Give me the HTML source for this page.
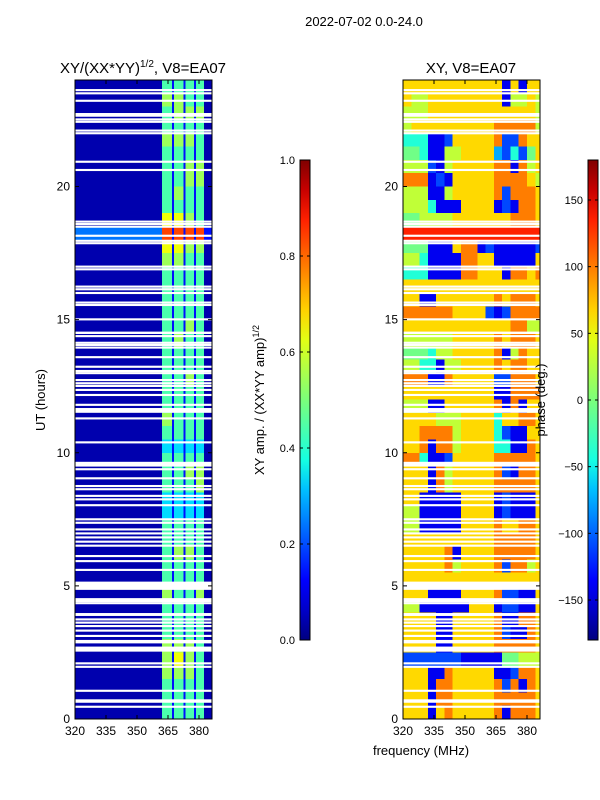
<!DOCTYPE html>
<html><head><meta charset="utf-8"><style>
body{margin:0;background:#fff;}
svg{display:block;font-family:"Liberation Sans",sans-serif;}
</style></head><body>
<svg id="fig" width="600" height="800" xmlns="http://www.w3.org/2000/svg"></svg>
<script>
// ---- data ----
const ampFreqEdges=[320,340,362,367,368,372.5,373.5,377.5,378.5,382.5,386.5];
// rows from 24h down to 0h in 0.5h steps; digit d -> amplitude 0.04 + d/10
const ampRows=["0041414140","0051514140","0041515150","0041414140","0051515140","0041414140","0041415150","0041415150","0041514140","0041414140","0061615140","2281818181","0061615150","0051514140","0041414140","0041414140","0041414140","0041414140","0041415140","0041514140","0041414140","0041414140","0041415140","0041414140",
"0041414140","0051414140","0041414140","0031313130","0041414140","0041415150","0041414150","0031313130","0031313130","0041414140","0041414140","0041515140","0041414140","0041414140","0051414150","0041414140","0041414140","0041414140","0051515140","0051615140","0051515140","0041414140","0041414140","0041414140"];
const phFreqEdges=[320,324,328,332,336,340,344,348,352,356,360,364,368,372,376,380,384,386.5];
// digit d -> phase -180 + d*35
const phRows=["77777777777717177","76677777777716676","66677777777777776","67777777777888886","44411277777822877","55411667777324257","66621677777881867","88812177777888876","66611677777828887","66641117777121887","55666677777778887","99999999999999999","55511178812111112","66411118877111117","44411118877718878","77777777777777777","77117777777878887","88888877772128888","77777777777778866","66666677777878887","55546677777816877","66441667777878877","88811877777228887","77777777777118888",
"66611777777818177","77776667777477887","77888867777421177","77818867777441187","88411277777888887","77718677777821887","77718677777888887","77111117777121117","66111117777121117","66111117777877887","77777777777888887","77777817777888887","77777867777828867","77777777777777777","77711117777822117","66111111777122117","77771177777811887","77771177777821187","77771177777888887","22222221111155666","77711877777112887","77718877777828187","77718877777888887","77717877777818887"];
// flagged (white) time intervals, hours
const flagStart=[23.58,23.46,23.18,22.62,22.48,22.39,22.06,21.96,20.89,20.58,18.64,18.55,18.45,18.11,17.92,17.83,16.95,16.85,16.20,16.10,15.96,15.60,15.51,14.97,14.46,14.34,14.09,14.01,13.91,13.55,13.19,13.03,12.95,12.69,12.57,12.47,12.32,12.13,11.76,11.50,11.25,10.35,9.48,9.34,9.00,8.71,8.59,8.34,8.21,7.99,7.46,7.33,7.08,6.93,6.78,6.62,6.47,6.08,5.89,5.56,4.85,4.46,4.39,4.31,3.87,3.70,3.58,3.45,3.28,3.08,2.84,2.53,2.05,1.92,1.02,0.61,0.42];
const flagEnd=[23.66,23.54,23.26,22.76,22.56,22.47,22.14,22.04,20.97,20.66,18.72,18.63,18.53,18.19,18.00,17.91,17.03,16.93,16.28,16.18,16.04,15.68,15.59,15.05,14.55,14.42,14.17,14.09,13.99,13.63,13.27,13.11,13.03,12.77,12.65,12.55,12.40,12.21,11.84,11.68,11.33,10.43,9.66,9.42,9.08,8.79,8.67,8.42,8.29,8.07,7.54,7.41,7.16,7.01,6.86,6.70,6.55,6.16,5.97,5.64,5.16,4.54,4.47,4.39,3.98,3.78,3.66,3.53,3.36,3.16,2.97,2.72,2.13,2.00,1.10,0.74,0.50];
const xTicks=[320,335,350,365,380];
const yTicks=[0,5,10,15,20];
const ampTicks=[0.0,0.2,0.4,0.6,0.8,1.0];
const phTicks=[-150,-100,-50,0,50,100,150];

// ---- helpers ----
const NS="http://www.w3.org/2000/svg";
const svg=document.getElementById('fig');
function mk(tag,attrs,parent){const e=document.createElementNS(NS,tag);for(const k in attrs)e.setAttribute(k,attrs[k]);(parent||svg).appendChild(e);return e;}
const JR=[[0,0],[0.35,0],[0.66,1],[0.89,1],[1,0.5]],JG=[[0,0],[0.125,0],[0.375,1],[0.64,1],[0.91,0],[1,0]],JB=[[0,0.5],[0.11,1],[0.34,1],[0.65,0],[1,0]];
function seg(p,v){for(let i=0;i<p.length-1;i++){if(v<=p[i+1][0]){const t=(v-p[i][0])/(p[i+1][0]-p[i][0]);return p[i][1]+t*(p[i+1][1]-p[i][1]);}}return p[p.length-1][1];}
function jet(v){v=Math.max(0,Math.min(1,v));
 return `rgb(${Math.round(seg(JR,v)*255)},${Math.round(seg(JG,v)*255)},${Math.round(seg(JB,v)*255)})`;}
const Y0=719,Y1=80;
function yS(h){return Y0-(h/24)*(Y0-Y1);}
function xS(x0,f){return x0+(f-320)*(124/60);}
const PW=137;

function panel(x0,name,edges,rows,valFn){
 const g=mk('g',{'clip-path':`url(#clip-${name})`});
 
 
 const cp=mk('clipPath',{id:'clip-'+name});mk('rect',{x:x0,y:Y1,width:PW,height:Y0-Y1},cp);
 rows.forEach((row,i)=>{const hTop=24-0.5*i,hBot=hTop-0.5;
  for(let j=0;j<edges.length-1;j++){
   const c=mk('rect',{x:xS(x0,edges[j]),y:yS(hTop),width:xS(x0,edges[j+1])-xS(x0,edges[j])+0.5,height:yS(hBot)-yS(hTop)+0.5,fill:jet(valFn(+row[j])),'shape-rendering':'crispEdges'},g);
   
   
  }});
 flagStart.forEach((s,k)=>{const r=mk('rect',{x:x0,y:yS(flagEnd[k]),width:PW,height:yS(s)-yS(flagEnd[k]),fill:'#fff'},g);
  
  });
 const f=mk('rect',{x:x0,y:Y1,width:PW,height:Y0-Y1,fill:'none',stroke:'#000','stroke-width':1});
 
 
 xTicks.forEach(t=>{const x=xS(x0,t);mk('line',{x1:x,x2:x,y1:Y0,y2:Y0-4,stroke:'#000'});mk('line',{x1:x,x2:x,y1:Y1,y2:Y1+4,stroke:'#000'});
  const tx=mk('text',{x:x,y:Y0+16,'text-anchor':'middle','font-size':12});tx.textContent=t;
  
  });
 yTicks.forEach(t=>{const y=yS(t);mk('line',{x1:x0,x2:x0+4,y1:y,y2:y,stroke:'#000'});mk('line',{x1:x0+PW,x2:x0+PW-4,y1:y,y2:y,stroke:'#000'});
  const tx=mk('text',{x:x0-5,y:y+4,'text-anchor':'end','font-size':12});tx.textContent=t;
  
  });
}
panel(75,'amplitude',ampFreqEdges,ampRows,d=>0.04+d/10);
panel(403,'phase',phFreqEdges,phRows,d=>(d*35)/360);

function colorbar(x,name,ticks,lo,hi,fmt){
 const defs=mk('defs',{});const lg=mk('linearGradient',{id:'g'+name,x1:0,y1:1,x2:0,y2:0},defs);
 for(let i=0;i<=16;i++)mk('stop',{offset:i/16,'stop-color':jet(i/16)},lg);
 const r=mk('rect',{x:x,y:160,width:10,height:480,fill:`url(#g${name})`,stroke:'#000','stroke-width':1});
 
 
 ticks.forEach(t=>{const y=640-(t-lo)/(hi-lo)*480;mk('line',{x1:x,x2:x+3,y1:y,y2:y,stroke:'#000'});mk('line',{x1:x+10,x2:x+7,y1:y,y2:y,stroke:'#000'});
  const tx=mk('text',{x:x-5,y:y+4,'text-anchor':'end','font-size':11});tx.textContent=fmt(t);
  
  });
}
colorbar(300,'amplitude',ampTicks,0,1,t=>t.toFixed(1));
colorbar(588,'phase',phTicks,-180,180,t=>t<0?'\u2212'+(-t):''+t);

function txt(s,a,name){const t=mk('text',a);t.textContent=s;return t;}
txt('2022-07-02 0.0-24.0',{x:364,y:26,'text-anchor':'middle','font-size':13},'figure-title');
const t1=txt('',{x:143,y:73,'text-anchor':'middle','font-size':15},'amplitude-title');
t1.innerHTML='XY/(XX*YY)<tspan dy="-6" font-size="10">1/2</tspan><tspan dy="6">, V8=EA07</tspan>';
txt('XY, V8=EA07',{x:471,y:73,'text-anchor':'middle','font-size':15},'phase-title');
txt('UT (hours)',{x:45,y:400,'text-anchor':'middle','font-size':13,transform:'rotate(-90 45 400)'},'y-axis-title');
const t2=txt('',{x:264,y:400,'text-anchor':'middle','font-size':13,transform:'rotate(-90 264 400)'},'amplitude-colorbar-label');
t2.innerHTML='XY amp. / (XX*YY amp)<tspan dy="-5" font-size="9">1/2</tspan>';
txt('phase (deg.)',{x:545,y:400,'text-anchor':'middle','font-size':13,transform:'rotate(-90 545 400)'},'phase-colorbar-label');
txt('frequency (MHz)',{x:421,y:755,'text-anchor':'middle','font-size':13},'x-axis-title');
</script>
</body></html>
